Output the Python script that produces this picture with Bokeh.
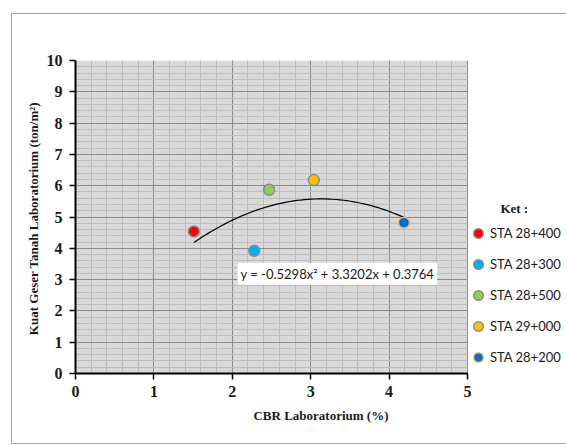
from bokeh.plotting import figure
from bokeh.models import (ColumnDataSource, Legend, LegendItem, Label, BoxAnnotation,
                          SingleIntervalTicker)
from bokeh.embed import file_html
from bokeh.resources import INLINE

stations = ["STA 28+400", "STA 28+300", "STA 28+500", "STA 29+000", "STA 28+200"]
cbr = [1.51, 2.28, 2.47, 3.04, 4.19]
kuat = [4.54, 3.92, 5.87, 6.18, 4.82]
colors = ["#ff0000", "#00b0f0", "#92d050", "#ffc000", "#0070c0"]
outlines = ["#8c8c8c", "#8c8c8c", "#8c8c8c", "#8c8c8c", "#f4b183"]

# trendline coefficients as printed on the chart (a, b, c)
coef = [-0.5298, 3.3202, 0.3764]
eq_text = "y = -0.5298x\u00b2 + 3.3202x + 0.3764"

# frame spans x 0..6.263 (legend sits in the white strip beyond x = 5)
p = figure(width=554, height=429, output_backend="svg", toolbar_location=None,
           x_range=(0, 6.263), y_range=(0, 10),
           min_border_left=63, min_border_right=0, min_border_top=46, min_border_bottom=70)
p.margin = (14, 0, 0, 12)
p.styles = {"outline": "1px solid #a6a6a6"}
p.background_fill_color = "white"
p.border_fill_color = "white"
p.outline_line_color = None

for ax in (p.xaxis[0], p.yaxis[0]):
    ax.ticker = SingleIntervalTicker(interval=1, num_minor_ticks=5)
    ax.major_label_text_font = "Liberation Serif"
    ax.major_label_text_font_style = "bold"
    ax.major_label_text_font_size = "16px"
    ax.major_label_text_color = "#1a1a1a"
    ax.axis_label_text_font = "Liberation Serif"
    ax.axis_label_text_font_style = "bold"
    ax.axis_label_text_font_size = "13px"
    ax.axis_label_text_color = "#1a1a1a"
    ax.axis_line_color = "black"
    ax.axis_line_width = 2
    ax.major_tick_line_color = "black"
    ax.major_tick_line_width = 1.5
    ax.major_tick_in = 0
    ax.major_tick_out = 6
    ax.minor_tick_line_color = None

p.xaxis.bounds = (0, 5)
p.yaxis.bounds = (0, 10)
p.xaxis.major_label_standoff = 6
p.yaxis.major_label_standoff = 7
p.xaxis.axis_label = "CBR Laboratorium (%)"
p.yaxis.axis_label = "Kuat Geser Tanah  Laboratorium (ton/m\u00b2)"
p.xaxis.axis_label_standoff = 8
p.yaxis.axis_label_standoff = 3

for g in (p.xgrid[0], p.ygrid[0]):
    g.grid_line_color = "#8a8a8a"
    g.grid_line_width = 1
    g.minor_grid_line_color = "#bdbdbd"
    g.minor_grid_line_width = 1
p.xgrid[0].bounds = (0, 5)
p.ygrid[0].cross_bounds = (0, 5)

# gray plot area (x 0..5), drawn underneath the grid lines
plot_area = BoxAnnotation(left=0, right=5, fill_color="#d9d9d9", fill_alpha=1,
                          line_color=None, level="underlay")
p.center = [plot_area] + list(p.center)

# trendline from the printed polynomial
n = 60
lo, hi = min(cbr), max(cbr)
tx = [lo + (hi - lo) * i / (n - 1) for i in range(n)]
ty = [coef[0] * x * x + coef[1] * x + coef[2] for x in tx]
p.line(tx, ty, line_color="black", line_width=1.2)

items = []
for i in range(len(stations)):
    src = ColumnDataSource(dict(x=[cbr[i]], y=[kuat[i]]))
    r = p.scatter("x", "y", source=src, size=11, fill_color=colors[i],
                  line_color=outlines[i], line_width=1.5)
    items.append(LegendItem(label=stations[i], renderers=[r]))

legend = Legend(items=items, location=(391, 4), orientation="vertical",
                label_text_font="Lato", label_text_font_size="13px",
                label_text_color="#1a1a1a",
                glyph_width=24, glyph_height=24, label_standoff=0,
                label_height=16, spacing=7, padding=0, margin=0,
                border_line_color=None, background_fill_alpha=0)
p.add_layout(legend)

p.add_layout(Label(x=5.42, y=5.27, text="Ket :", text_font="Liberation Serif",
                   text_font_style="bold", text_font_size="13px",
                   text_baseline="middle", text_align="left", text_color="#1a1a1a"))

p.add_layout(Label(x=3.34, y=3.19, text=eq_text, text_font="Lato",
                   text_font_size="13px", text_align="center", text_baseline="middle",
                   text_color="#1a1a1a", background_fill_color="white", padding=3))

open("out.html", "w").write(file_html(p, INLINE))
